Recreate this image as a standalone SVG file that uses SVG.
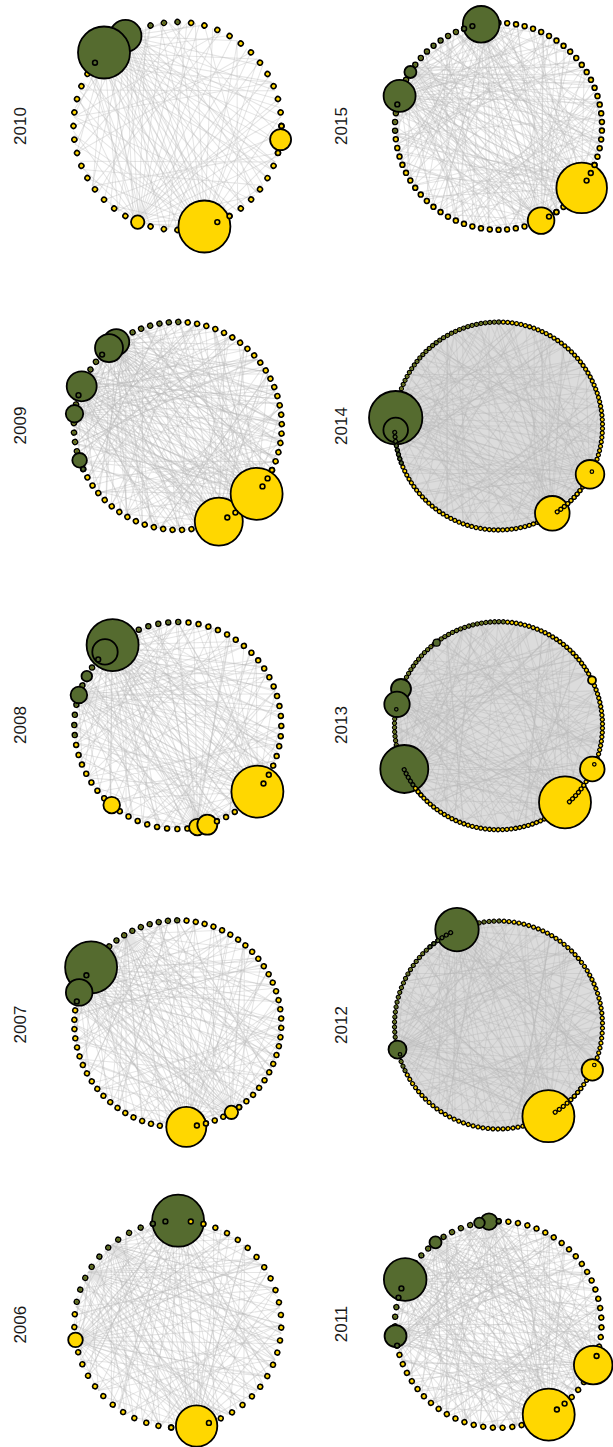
<svg xmlns="http://www.w3.org/2000/svg" width="613" height="1447" viewBox="0 0 613 1447">
<style>
.dk{fill:none;stroke:#000;stroke-width:6.5;stroke-linecap:round;stroke-dasharray:0 1}
.yl{fill:none;stroke:#FFD700;stroke-width:3.3;stroke-linecap:round;stroke-dasharray:0 1}
.gr{fill:none;stroke:#556B2F;stroke-width:3.3;stroke-linecap:round;stroke-dasharray:0 1}
.dk2{fill:none;stroke:#000;stroke-width:5.1;stroke-linecap:round;stroke-dasharray:0 1}
.yl2{fill:none;stroke:#FFD700;stroke-width:2.6;stroke-linecap:round;stroke-dasharray:0 1}
.gr2{fill:none;stroke:#556B2F;stroke-width:2.6;stroke-linecap:round;stroke-dasharray:0 1}
.by{fill:#FFD700;stroke:#000;stroke-width:1.8}
.bgn{fill:#556B2F;stroke:#000;stroke-width:1.8}
.sy{fill:#FFD700;stroke:#000;stroke-width:1.6}
.sg{fill:#556B2F;stroke:#000;stroke-width:1.6}
.sy2{fill:#FFD700;stroke:#000;stroke-width:1.2}
.sg2{fill:#556B2F;stroke:#000;stroke-width:1.2}
.dense{fill:#dcdcdc}
.lab{font-family:"Liberation Sans",Arial,sans-serif;font-size:17px;fill:#1a1a1a;text-anchor:middle}
</style>
<defs>
<g id="mesh" fill="none" stroke="#b4b4b4" stroke-width="1" stroke-opacity="0.35">
<path d="M100 0L-64 77M98 17L-94 -34M94 34L-34 -94M87 50L-98 17M77 64L34 -94M64 77L-77 -64M50 87L64 -77M34 94L-100 0M17 98L-17 -98M0 100L-94 -34M-17 98L87 -50M-34 94L-50 -87M-50 87L98 -17M-64 77L17 -98M-77 64L94 34M-87 50L50 -87M-94 34L50 87M-98 17L77 -64M-98 -17L77 64M-94 -34L-17 98M-87 -50L87 -50M-64 -77L98 17M-50 -87L-50 87M-34 -94L98 -17M-17 -98L-87 50M0 -100L87 50M17 -98L-98 17M50 -87L17 98M77 -64L-94 -34M94 -34L-34 94M100 9L-82 57M42 91L-91 -42M-57 82L-9 -100M-100 -9L82 -57M-42 -91L91 42M57 -82L-97 26"/>
</g>
<g id="fanA" fill="none" stroke="#b4b4b4" stroke-width="1" stroke-opacity="0.35">
<path d="M100 0L82 57M100 0L57 82M100 0L26 97M100 0L-9 100M100 0L-34 94M100 0L-57 82M100 0L-71 71M100 0L-82 57M100 0L-91 42M100 0L-97 26M100 0L-100 9M100 0L-100 -9M100 0L-97 -26M100 0L-91 -42M100 0L-82 -57M100 0L-64 -77M100 0L-42 -91M100 0L-17 -98M100 0L17 -98M100 0L50 -87M100 0L77 -64"/>
</g>
<g id="fanB" fill="none" stroke="#b4b4b4" stroke-width="1" stroke-opacity="0.35">
<path d="M100 0L91 42M100 0L71 71M100 0L42 91M100 0L9 100M100 0L-17 98M100 0L-42 91M100 0L-64 77M100 0L-77 64M100 0L-87 50M100 0L-94 34M100 0L-98 17M100 0L-100 0M100 0L-98 -17M100 0L-94 -34M100 0L-87 -50M100 0L-77 -64M100 0L-57 -82M100 0L-34 -94M100 0L-9 -100M100 0L34 -94M100 0L64 -77M100 0L87 -50"/>
</g>
</defs>

<g id="labels">
<text class="lab" transform="translate(26 126) rotate(-90)">2010</text>
<text class="lab" transform="translate(347 126) rotate(-90)">2015</text>
<text class="lab" transform="translate(26 425.5) rotate(-90)">2009</text>
<text class="lab" transform="translate(347 426) rotate(-90)">2014</text>
<text class="lab" transform="translate(26 725) rotate(-90)">2008</text>
<text class="lab" transform="translate(347 725) rotate(-90)">2013</text>
<text class="lab" transform="translate(26 1024.5) rotate(-90)">2007</text>
<text class="lab" transform="translate(347 1025) rotate(-90)">2012</text>
<text class="lab" transform="translate(26 1324.7) rotate(-90)">2006</text>
<text class="lab" transform="translate(347 1324) rotate(-90)">2011</text>
</g>

<!-- 2010 -->
<g id="y2010" transform="translate(177.5 126)">
<g id="e2010" transform="scale(1.04)">
<use href="#mesh" transform="rotate(15)"/>
<use href="#fanA" transform="rotate(-135)"/>
<use href="#fanB" transform="rotate(-120)"/>
<use href="#fanA" transform="rotate(75)"/>
<use href="#fanB" transform="rotate(112)"/>
</g>
<g transform="rotate(-142.5)">
<circle r="104" pathLength="48" class="dk"/>
<circle r="104" pathLength="48" class="yl"/>
<path d="M104 0A104 104 0 0 1 57.8 86.5" pathLength="7.5" class="gr"/>
</g>
<circle cx="-52" cy="-90.1" r="16" class="bgn"/>
<circle cx="-73.5" cy="-73.5" r="26" class="bgn"/>
<circle cx="-82.5" cy="-63.3" r="2.4" class="sg"/>
<circle cx="26.9" cy="100.5" r="26" class="by"/>
<circle cx="39.8" cy="96.1" r="2.4" class="sy"/>
<circle cx="52" cy="90.1" r="2.4" class="sy"/>
<circle cx="103.1" cy="13.6" r="10.5" class="by"/>
<circle cx="104" cy="0" r="2.4" class="sy"/>
<circle cx="100.5" cy="26.9" r="2.4" class="sy"/>
<circle cx="-39.8" cy="96.1" r="6.7" class="by"/>
</g>

<!-- 2015 -->
<g id="y2015" transform="translate(498.5 126.3)">
<g id="e2015" transform="scale(1.03)">
<use href="#mesh" transform="rotate(0)"/>
<use href="#mesh" transform="rotate(45)"/>
<use href="#mesh" transform="rotate(95)"/>
<use href="#fanA" transform="rotate(-99.7)"/>
<use href="#fanB" transform="rotate(-162.9)"/>
<use href="#fanA" transform="rotate(-148)"/>
<use href="#fanB" transform="rotate(36.5)"/>
<use href="#fanA" transform="rotate(65.7)"/>
</g>
<g transform="rotate(177.6)">
<circle r="103.5" pathLength="74" class="dk"/>
<circle r="103.5" pathLength="74" class="yl"/>
<path d="M103.5 0A103.5 103.5 0 0 1 -8.8 103.1" pathLength="19.5" class="gr"/>
</g>
<circle cx="-17.4" cy="-102" r="18.3" class="bgn"/>
<circle cx="-26.1" cy="-100.2" r="2.4" class="sg"/>
<circle cx="-34.4" cy="-97.6" r="2.4" class="sg"/>
<circle cx="-88.1" cy="-54.3" r="6" class="bgn"/>
<circle cx="-98.9" cy="-30.4" r="16" class="bgn"/>
<circle cx="-101.2" cy="-21.9" r="2.4" class="sg"/>
<circle cx="83.2" cy="61.6" r="25.3" class="by"/>
<circle cx="88.1" cy="54.3" r="2.4" class="sy"/>
<circle cx="92.3" cy="46.7" r="2.4" class="sy"/>
<circle cx="96" cy="38.7" r="2.4" class="sy"/>
<circle cx="42.6" cy="94.3" r="13.3" class="by"/>
<circle cx="50.5" cy="90.3" r="2.4" class="sy"/>
<circle cx="57.9" cy="85.8" r="2.4" class="sy"/>
</g>

<!-- 2009 -->
<g id="y2009" transform="translate(177.8 426)">
<g id="e2009" transform="scale(1.04)">
<use href="#mesh" transform="rotate(0)"/>
<use href="#mesh" transform="rotate(40)"/>
<use href="#mesh" transform="rotate(80)"/>
<use href="#fanA" transform="rotate(233.8)"/>
<use href="#fanB" transform="rotate(228.5)"/>
<use href="#fanA" transform="rotate(202.5)"/>
<use href="#fanB" transform="rotate(40.7)"/>
<use href="#fanA" transform="rotate(66.8)"/>
<use href="#fanB" transform="rotate(186.8)"/>
</g>
<g transform="rotate(155.5)">
<circle r="104" pathLength="69" class="dk"/>
<circle r="104" pathLength="69" class="yl"/>
<path d="M104 0A104 104 0 0 1 -47.9 92.3" pathLength="22.5" class="gr"/>
</g>
<circle cx="-61.5" cy="-83.9" r="13" class="bgn"/>
<circle cx="-68.8" cy="-77.9" r="14" class="bgn"/>
<circle cx="-75.7" cy="-71.4" r="2.4" class="sg"/>
<circle cx="-96.1" cy="-39.7" r="15" class="bgn"/>
<circle cx="-99.3" cy="-30.8" r="2.4" class="sg"/>
<circle cx="-103.3" cy="-12.3" r="8.7" class="bgn"/>
<circle cx="-98.2" cy="34.3" r="7.3" class="bgn"/>
<circle cx="-94.6" cy="43.1" r="2.4" class="sg"/>
<circle cx="41" cy="95.6" r="24" class="by"/>
<circle cx="78.8" cy="67.8" r="26" class="by"/>
<circle cx="49.5" cy="91.5" r="2.4" class="sy"/>
<circle cx="57.6" cy="86.6" r="2.4" class="sy"/>
<circle cx="84.7" cy="60.4" r="2.4" class="sy"/>
<circle cx="89.8" cy="52.4" r="2.4" class="sy"/>
<circle cx="94.2" cy="44" r="2.4" class="sy"/>
</g>

<!-- 2014 -->
<g id="y2014" transform="translate(498.5 426)">
<circle r="103" class="dense"/>
<g id="e2014" transform="scale(1.03)">
<use href="#mesh" transform="rotate(0)"/>
<use href="#mesh" transform="rotate(45)"/>
<use href="#mesh" transform="rotate(100)"/>
<use href="#fanA" transform="rotate(184.6)"/>
<use href="#fanB" transform="rotate(58.4)"/>
<use href="#fanA" transform="rotate(27.8)"/>
</g>
<g transform="rotate(159.2)">
<circle r="104" pathLength="146" class="dk2"/>
<circle r="104" pathLength="146" class="yl2"/>
<path d="M104 0A104 104 0 0 1 -39.3 96.3" pathLength="45.5" class="gr2"/>
</g>
<circle cx="-102.8" cy="-8.3" r="26.7" class="bgn"/>
<circle cx="-102.8" cy="4" r="12.3" class="bgn"/>
<circle cx="53.8" cy="87.3" r="17.3" class="by"/>
<circle cx="91.5" cy="48.3" r="14.3" class="by"/>
<circle cx="93.4" cy="45.7" r="1.75" class="sy2"/>
<g transform="rotate(159.2)">
<path d="M104 0A104 104 0 0 1 98.6 33" pathLength="7.5" class="dk2"/>
<path d="M104 0A104 104 0 0 1 98.6 33" pathLength="7.5" class="gr2"/>
<path d="M-53.2 -89.3A104 104 0 0 1 -22.2 -101.6" pathLength="7.5" class="dk2"/>
<path d="M-53.2 -89.3A104 104 0 0 1 -22.2 -101.6" pathLength="7.5" class="yl2"/>
</g>
</g>

<!-- 2008 -->
<g id="y2008" transform="translate(177.8 725.5)">
<g id="e2008" transform="scale(1.035)">
<use href="#mesh" transform="rotate(0)"/>
<use href="#mesh" transform="rotate(70)"/>
<use href="#fanA" transform="rotate(231)"/>
<use href="#fanB" transform="rotate(225)"/>
<use href="#fanA" transform="rotate(39.7)"/>
<use href="#fanB" transform="rotate(79)"/>
<use href="#fanA" transform="rotate(197)"/>
</g>
<g transform="rotate(174.7)">
<circle r="103.5" pathLength="64" class="dk"/>
<circle r="103.5" pathLength="64" class="yl"/>
<path d="M103.5 0A103.5 103.5 0 0 1 -15.2 102.4" pathLength="17.5" class="gr"/>
</g>
<circle cx="-65.2" cy="-80.4" r="26" class="bgn"/>
<circle cx="-72.8" cy="-73.6" r="12.7" class="bgn"/>
<circle cx="-79.6" cy="-66.1" r="2.4" class="sg"/>
<circle cx="-91" cy="-49.3" r="5.3" class="bgn"/>
<circle cx="-98.9" cy="-30.6" r="8.3" class="bgn"/>
<circle cx="79.6" cy="66.1" r="26" class="by"/>
<circle cx="85.7" cy="58" r="2.4" class="sy"/>
<circle cx="91" cy="49.3" r="2.4" class="sy"/>
<circle cx="-66.1" cy="79.6" r="8.3" class="by"/>
<circle cx="19.6" cy="101.6" r="8.3" class="by"/>
<circle cx="29.5" cy="99.2" r="10" class="by"/>
<circle cx="39.1" cy="95.8" r="2.4" class="sy"/>
</g>

<!-- 2013 -->
<g id="y2013" transform="translate(498.5 725.7)">
<circle r="103" class="dense"/>
<g id="e2013" transform="scale(1.03)">
<use href="#mesh" transform="rotate(0)"/>
<use href="#mesh" transform="rotate(50)"/>
<use href="#mesh" transform="rotate(110)"/>
<use href="#fanA" transform="rotate(155)"/>
<use href="#fanB" transform="rotate(49)"/>
<use href="#fanA" transform="rotate(195)"/>
</g>
<g transform="rotate(145.4)">
<circle r="104" pathLength="150" class="dk2"/>
<circle r="104" pathLength="150" class="yl2"/>
<path d="M104 0A104 104 0 0 1 -64.6 81.5" pathLength="53.5" class="gr2"/>
</g>
<circle cx="-61.8" cy="-83" r="3.5" class="sg2"/>
<circle cx="-97.5" cy="-36.7" r="10" class="bgn"/>
<circle cx="-101.5" cy="-21.4" r="12.7" class="bgn"/>
<circle cx="-102.2" cy="-16.4" r="1.75" class="sg2"/>
<circle cx="-94.2" cy="43.3" r="24" class="bgn"/>
<circle cx="66.5" cy="76.6" r="26" class="by"/>
<circle cx="93.8" cy="43.3" r="12.3" class="by"/>
<circle cx="95.8" cy="38.6" r="1.75" class="sy2"/>
<circle cx="93.5" cy="-45.4" r="4" class="by" stroke-width="1.2"/>
<g transform="rotate(145.4)">
<path d="M104 0A104 104 0 0 1 102.2 19.5" pathLength="4.5" class="dk2"/>
<path d="M104 0A104 104 0 0 1 102.2 19.5" pathLength="4.5" class="gr2"/>
<path d="M103.2 -13A104 104 0 0 1 104 -2.2" pathLength="2.5" class="dk2"/>
<path d="M103.2 -13A104 104 0 0 1 104 -2.2" pathLength="2.5" class="yl2"/>
<path d="M-36.3 -97.5A104 104 0 0 1 -13 -103.2" pathLength="5.5" class="dk2"/>
<path d="M-36.3 -97.5A104 104 0 0 1 -13 -103.2" pathLength="5.5" class="yl2"/>
</g>
</g>

<!-- 2007 -->
<g id="y2007" transform="translate(177.8 1023.8)">
<g id="e2007" transform="scale(1.035)">
<use href="#mesh" transform="rotate(0)"/>
<use href="#mesh" transform="rotate(60)"/>
<use href="#fanA" transform="rotate(213)"/>
<use href="#fanB" transform="rotate(197.6)"/>
<use href="#fanA" transform="rotate(84.5)"/>
<use href="#fanB" transform="rotate(58.8)"/>
<use href="#fanA" transform="rotate(240)"/>
</g>
<g transform="rotate(192.5)">
<circle r="103.5" pathLength="70" class="dk"/>
<circle r="103.5" pathLength="70" class="yl"/>
<path d="M103.5 0A103.5 103.5 0 0 1 18.5 101.8" pathLength="15.5" class="gr"/>
</g>
<circle cx="-86.7" cy="-56.5" r="26" class="bgn"/>
<circle cx="-91.4" cy="-48.5" r="2.4" class="sg"/>
<circle cx="-98.6" cy="-31.4" r="13.3" class="bgn"/>
<circle cx="-101" cy="-22.4" r="2.4" class="sg"/>
<circle cx="8.5" cy="103.1" r="20" class="by"/>
<circle cx="19.1" cy="101.7" r="2.4" class="sy"/>
<circle cx="28.1" cy="99.6" r="2.4" class="sy"/>
<circle cx="53.6" cy="88.5" r="6.7" class="by"/>
<circle cx="61.3" cy="83.4" r="2.4" class="sy"/>
</g>

<!-- 2012 -->
<g id="y2012" transform="translate(498.5 1025)">
<circle r="103" class="dense"/>
<g id="e2012" transform="scale(1.03)">
<use href="#mesh" transform="rotate(0)"/>
<use href="#mesh" transform="rotate(55)"/>
<use href="#mesh" transform="rotate(115)"/>
<use href="#fanA" transform="rotate(246.5)"/>
<use href="#fanB" transform="rotate(61.3)"/>
<use href="#fanA" transform="rotate(166)"/>
</g>
<g transform="rotate(154)">
<circle r="104" pathLength="130" class="dk2"/>
<circle r="104" pathLength="130" class="yl2"/>
<path d="M104 0A104 104 0 0 1 -48.3 92.1" pathLength="42.5" class="gr2"/>
</g>
<circle cx="-41.5" cy="-95.4" r="21.7" class="bgn"/>
<circle cx="-101" cy="24.6" r="9" class="bgn"/>
<circle cx="-98.5" cy="29.3" r="1.75" class="sg2"/>
<circle cx="49.9" cy="91.2" r="26" class="by"/>
<circle cx="93.8" cy="44.9" r="10.7" class="by"/>
<circle cx="95.8" cy="40" r="1.75" class="sy2"/>
<g transform="rotate(154)">
<path d="M27.3 100.3A104 104 0 0 1 0 104" pathLength="5.5" class="dk2"/>
<path d="M27.3 100.3A104 104 0 0 1 0 104" pathLength="5.5" class="gr2"/>
<path d="M-46.1 -93.2A104 104 0 0 1 -10.2 -103.5" pathLength="7.5" class="dk2"/>
<path d="M-46.1 -93.2A104 104 0 0 1 -10.2 -103.5" pathLength="7.5" class="yl2"/>
</g>
</g>

<!-- 2006 -->
<g id="y2006" transform="translate(177.8 1324.2)">
<g id="e2006" transform="scale(1.035)">
<use href="#mesh" transform="rotate(0)"/>
<use href="#mesh" transform="rotate(60)"/>
<use href="#fanA" transform="rotate(-90)"/>
<use href="#fanB" transform="rotate(-150)"/>
<use href="#fanA" transform="rotate(80)"/>
<use href="#fanB" transform="rotate(171)"/>
<use href="#fanA" transform="rotate(-130)"/>
</g>
<g transform="rotate(-167.5)">
<circle r="103.5" pathLength="51" class="dk"/>
<circle r="103.5" pathLength="51" class="yl"/>
<path d="M103.5 0A103.5 103.5 0 0 1 15.9 102.3" pathLength="11.5" class="gr"/>
</g>
<circle cx="0.3" cy="-103.5" r="26" class="bgn"/>
<circle cx="-24.9" cy="-100.5" r="2.4" class="sg"/>
<circle cx="-12.4" cy="-102.8" r="2.4" class="sg"/>
<circle cx="13" cy="-102.7" r="2.4" class="sy"/>
<circle cx="25.6" cy="-100.3" r="2.4" class="sy"/>
<circle cx="18.8" cy="101.8" r="20.7" class="by"/>
<circle cx="31.1" cy="98.7" r="2.4" class="sy"/>
<circle cx="-6.6" cy="103.3" r="2.4" class="sy"/>
<circle cx="-102.3" cy="15.7" r="7.3" class="by"/>
</g>

<!-- 2011 -->
<g id="y2011" transform="translate(498.2 1324.5)">
<g id="e2011" transform="scale(1.03)">
<use href="#mesh" transform="rotate(0)"/>
<use href="#mesh" transform="rotate(50)"/>
<use href="#mesh" transform="rotate(100)"/>
<use href="#fanA" transform="rotate(205.8)"/>
<use href="#fanB" transform="rotate(173.6)"/>
<use href="#fanA" transform="rotate(23.1)"/>
<use href="#fanB" transform="rotate(60.7)"/>
<use href="#fanA" transform="rotate(264.9)"/>
<use href="#fanB" transform="rotate(232.7)"/>
</g>
<g transform="rotate(168.2)">
<circle r="103.3" pathLength="67" class="dk"/>
<circle r="103.3" pathLength="67" class="yl"/>
<path d="M103.3 0A103.3 103.3 0 0 1 -26.3 99.9" pathLength="19.5" class="gr"/>
</g>
<circle cx="-93" cy="-45" r="21.3" class="bgn"/>
<circle cx="-96.8" cy="-36.1" r="2.4" class="sg"/>
<circle cx="-99.7" cy="-26.9" r="2.4" class="sg"/>
<circle cx="-102.65" cy="11.57" r="11" class="bgn"/>
<circle cx="-101.1" cy="21.1" r="2.4" class="sg"/>
<circle cx="-62.7" cy="-82.1" r="6" class="bgn"/>
<circle cx="-9.2" cy="-102.9" r="8.3" class="bgn"/>
<circle cx="-18.75" cy="-101.6" r="5.3" class="bgn"/>
<circle cx="0.5" cy="-103.3" r="2.4" class="sg"/>
<circle cx="95" cy="40.6" r="19.3" class="by"/>
<circle cx="98.4" cy="31.5" r="2.4" class="sy"/>
<circle cx="50.5" cy="90.1" r="26" class="by"/>
<circle cx="58.7" cy="85" r="2.4" class="sy"/>
<circle cx="66.4" cy="79.1" r="2.4" class="sy"/>
</g>
</svg>
